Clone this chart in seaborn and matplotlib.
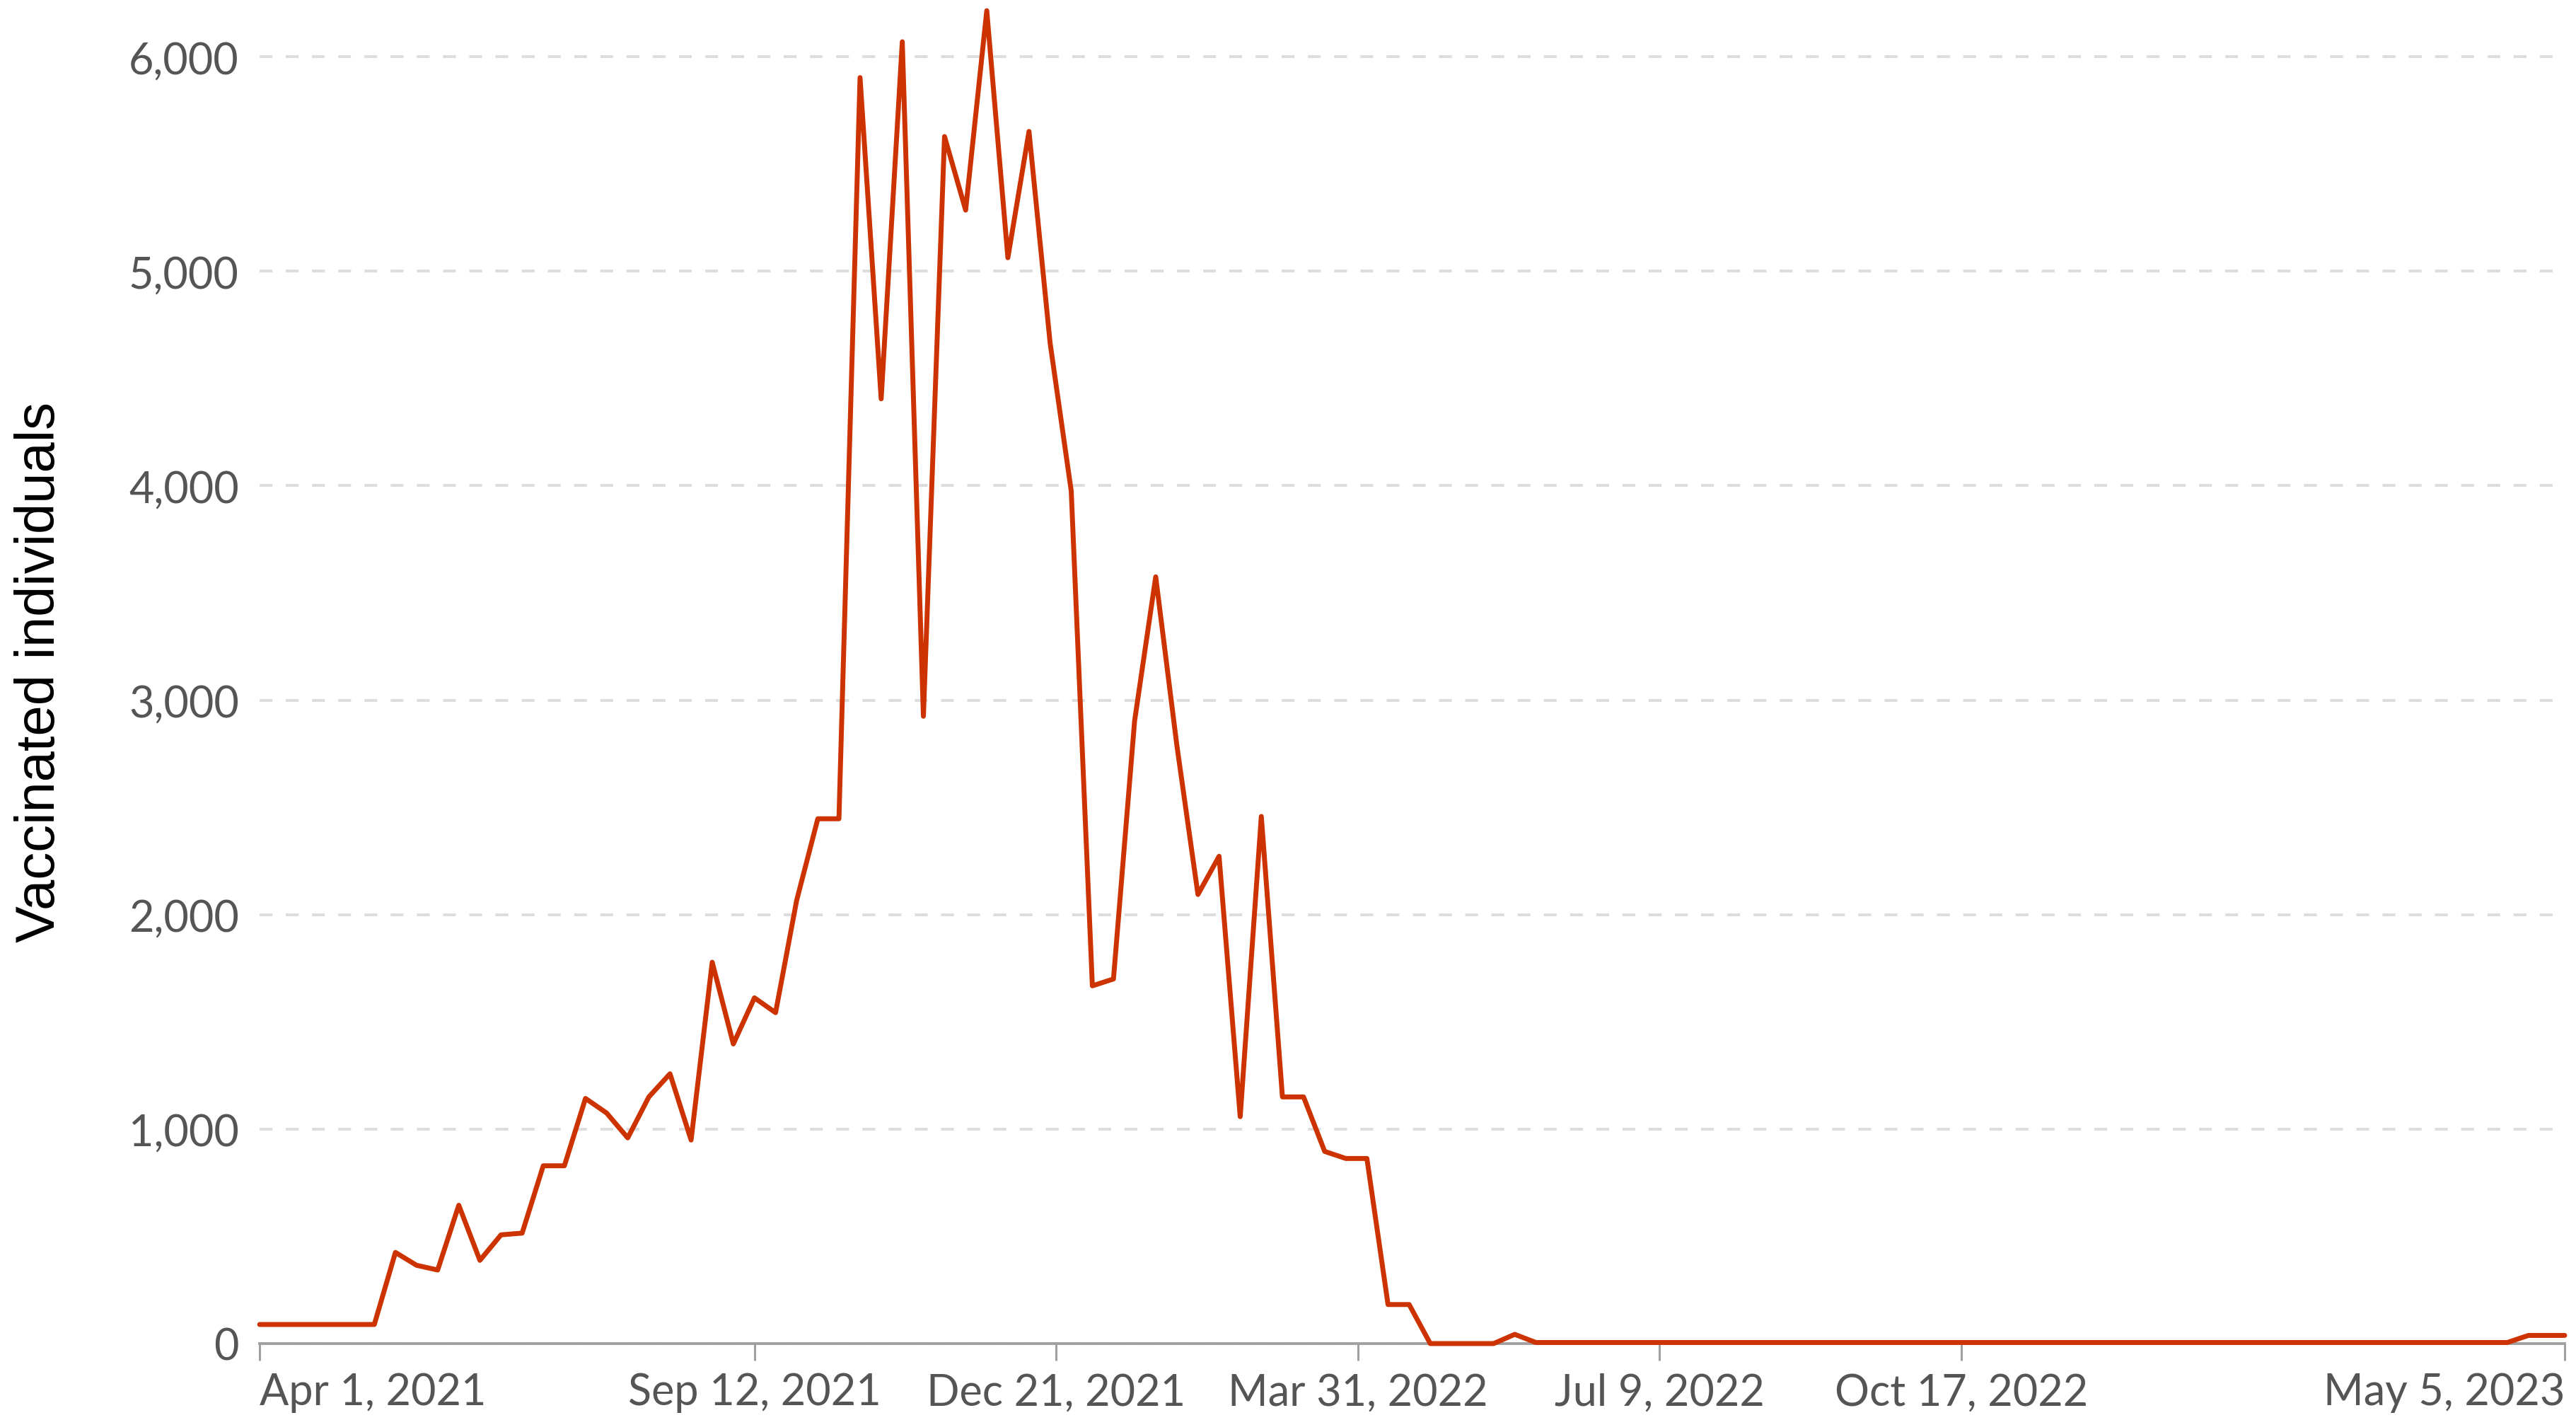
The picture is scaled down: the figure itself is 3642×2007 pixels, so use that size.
import matplotlib
matplotlib.use("Agg")
import matplotlib.pyplot as plt
import seaborn as sns
import pandas as pd

# weekly counts (Sundays) plus the first and last day of the series
first_day = "2021-04-01"
weekly_start = "2021-04-04"
weekly_end = "2023-04-30"
last_day = "2023-05-05"

vaccinated = [
    89,
    89, 89, 89, 89, 89, 89,
    425, 365, 343, 645, 388, 507, 515, 829, 829, 1143,
    1075, 959, 1150, 1258, 949, 1778, 1397, 1612, 1543, 2067,
    2447, 2447, 5903, 4405, 6070, 2925, 5628, 5285, 6215, 5063,
    5652, 4665, 3975, 1668, 1700, 2903, 3575, 2790, 2094, 2272,
    1058, 2458, 1150, 1150, 896, 863, 863, 182, 182, 0,
    0, 0, 0, 43,
    5, 5, 5, 5, 5, 5, 5, 5, 5, 5,
    5, 5, 5, 5, 5, 5, 5, 5, 5, 5,
    5, 5, 5, 5, 5, 5, 5, 5, 5, 5,
    5, 5, 5, 5, 5, 5, 5, 5, 5, 5,
    5, 5, 5, 5, 5, 5, 5,
    38, 38,
    38,
]

tick_dates = ["2021-04-01", "2021-09-12", "2021-12-21", "2022-03-31",
              "2022-07-09", "2022-10-17", "2023-05-05"]
tick_labels = ["Apr 1, 2021", "Sep 12, 2021", "Dec 21, 2021", "Mar 31, 2022",
               "Jul 9, 2022", "Oct 17, 2022", "May 5, 2023"]
y_ticks = [0, 1000, 2000, 3000, 4000, 5000, 6000]

dates = ([pd.Timestamp(first_day)]
         + list(pd.date_range(weekly_start, weekly_end, freq="7D"))
         + [pd.Timestamp(last_day)])
df = pd.DataFrame({"date": dates, "vaccinated": vaccinated})

sns.set_style("white")

fig = plt.figure(figsize=(36.42, 20.08), dpi=100)
ax = fig.add_axes([0.1008, 0.0538, 0.8948, 0.9462])

sns.lineplot(data=df, x="date", y="vaccinated", color="#cc3300",
             linewidth=5.0, ax=ax, zorder=4, clip_on=False)

ax.set_xlim(pd.Timestamp(first_day), pd.Timestamp(last_day))
ax.set_ylim(0, 6268)

ax.set_xticks(pd.to_datetime(tick_dates))
ax.set_xticklabels(tick_labels, fontsize=44, color="#555555", family="Lato")
xl = ax.get_xticklabels()
xl[0].set_ha("left")
xl[-1].set_ha("right")

ax.set_yticks(y_ticks)
ax.set_yticklabels([f"{v:,}" for v in y_ticks], fontsize=44,
                   color="#555555", family="Lato")

ax.tick_params(axis="x", bottom=True, direction="out", length=17, width=2.2,
               color="#a0a0a0", pad=12)
ax.tick_params(axis="y", left=False, length=0, pad=21)

for side in ["top", "right", "left"]:
    ax.spines[side].set_visible(False)
ax.spines["bottom"].set_color("#a0a0a0")
ax.spines["bottom"].set_linewidth(2.8)

ax.yaxis.grid(True, color="#dddddd", linewidth=2.9, linestyle=(0, (4.5, 4.7)))
ax.xaxis.grid(False)

ax.set_xlabel("")
ax.set_ylabel("Vaccinated individuals", fontsize=56, color="black",
              family="Liberation Sans")
ax.yaxis.set_label_coords(-0.084, 0.5)

fig.savefig("out.png", dpi=100, facecolor="white")
